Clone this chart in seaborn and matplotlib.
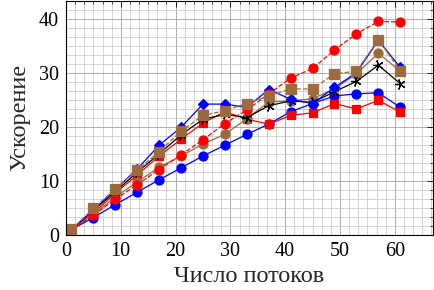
import numpy as np
import pandas as pd
import matplotlib.pyplot as plt
import seaborn as sns
from matplotlib.ticker import MultipleLocator, AutoMinorLocator

threads = [1, 5, 9, 13, 17, 21, 25, 29, 33, 37, 41, 45, 49, 53, 57, 61]

blue_circ = [1, 3.2, 5.6, 7.9, 10.2, 12.4, 14.6, 16.6, 18.6, 20.5, 22.8, 24.3, 25.7, 26.1, 26.3, 23.6]
red_sq = [1, 4.0, 7.7, 11.1, 14.6, 17.7, 20.7, 22.8, 21.4, 20.5, 22.1, 22.6, 24.3, 23.3, 24.9, 22.7]
brown_circ = [1, 3.8, 7.0, 9.8, 12.5, 14.6, 16.8, 18.6, 21.5, 24.6, 24.8, 25.2, 27.0, 29.8, 33.6, 30.3]
black_star = [1, 4.5, 8.0, 11.6, 15.0, 18.5, 21.4, 22.3, 21.7, 23.9, 24.8, 24.5, 26.5, 28.4, 31.4, 28.0]
blue_dia = [1, 4.6, 8.4, 12.2, 16.6, 19.9, 24.2, 24.2, 23.6, 26.9, 25.1, 24.3, 27.3, 30.0, 36.0, 31.0]
red_dash = [1, 3.6, 6.6, 9.3, 12.1, 14.8, 17.6, 20.6, 23.1, 26.1, 29.0, 30.8, 34.2, 37.2, 39.5, 39.4]
brown_dash = [1, 4.9, 8.5, 12.0, 15.4, 19.2, 22.1, 23.0, 24.3, 25.7, 27.0, 27.0, 29.8, 30.3, 36.1, 30.4]

brown = "#9b6a3e"
series = [
    (blue_circ, "blue", "o", "-", 6.5),
    (red_sq, "red", "s", "-", 6.3),
    (brown_circ, brown, "o", "-", 6.5),
    (black_star, "black", (5, 2, 90), "-", 7.5),
    (blue_dia, "blue", "D", "-", 4.8),
    (red_dash, "red", "o", "--", 6.5),
    (brown_dash, brown, "s", "--", 6.8),
]

sns.set_style("white")
plt.rcParams["font.family"] = ["Liberation Serif", "DejaVu Serif"]

fig = plt.figure(figsize=(4.34, 2.90), dpi=100)
ax = fig.add_axes([0.152, 0.19, 0.846, 0.807])

for vals, col, mk, ls, ms in series:
    sns.lineplot(x=threads, y=vals, ax=ax, color=col, marker=mk, linestyle=ls,
                 markersize=ms, markeredgecolor=col, markeredgewidth=0.9,
                 linewidth=0.9, dashes=False if ls == "-" else (4, 2.5))

ax.set_xlim(0, 67)
ax.set_ylim(0, 43.3)
ax.xaxis.set_major_locator(MultipleLocator(10))
ax.yaxis.set_major_locator(MultipleLocator(10))
ax.xaxis.set_minor_locator(AutoMinorLocator(6))
ax.yaxis.set_minor_locator(AutoMinorLocator(6))
ax.grid(which="major", color="#a0a0a0", linewidth=0.6)
ax.grid(which="minor", color="#c4c4c4", linewidth=0.5)
ax.set_axisbelow(True)
ax.tick_params(which="both", direction="in", top=True, right=True, labelsize=14.5, colors="black")
ax.tick_params(axis="x", pad=5)
ax.tick_params(axis="y", pad=5)
ax.tick_params(which="major", length=4, width=0.6)
ax.tick_params(which="minor", length=2, width=0.5)
for s in ax.spines.values():
    s.set_color("black")
    s.set_linewidth(0.8)

ax.set_xlabel("Число потоков", fontsize=17.5, labelpad=4)
ax.set_ylabel("Ускорение", fontsize=17.5, labelpad=6)

fig.savefig("out.png", dpi=100)
